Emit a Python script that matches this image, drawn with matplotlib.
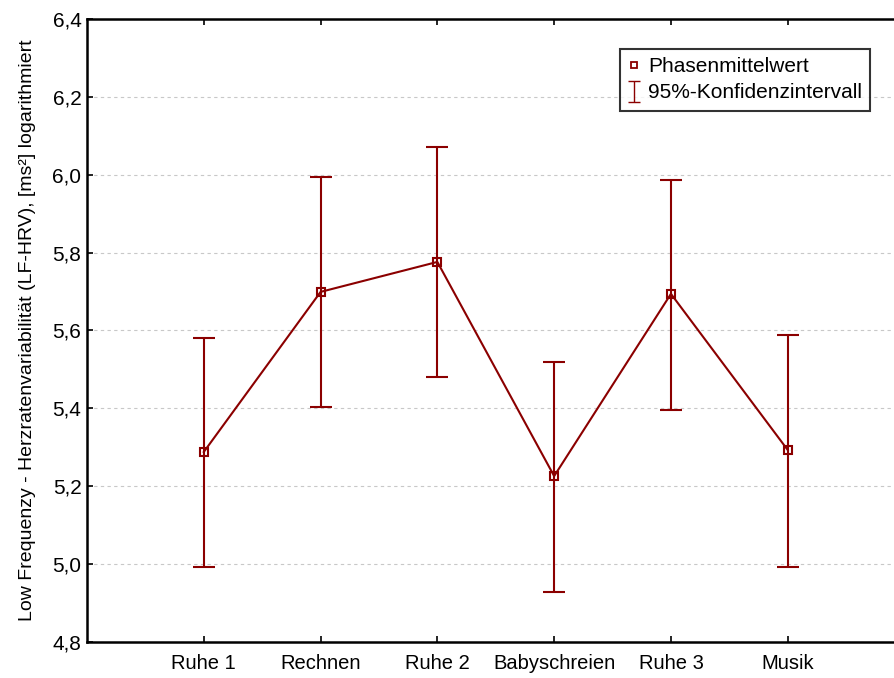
import matplotlib
matplotlib.use("Agg")
import matplotlib.pyplot as plt
from matplotlib.ticker import FixedLocator, FuncFormatter

plt.rcParams['font.family'] = ['Liberation Sans', 'DejaVu Sans']

categories = ["Ruhe 1", "Rechnen", "Ruhe 2", "Babyschreien", "Ruhe 3", "Musik"]
means = [5.288, 5.699, 5.776, 5.226, 5.694, 5.293]
upper = [5.580, 5.994, 6.070, 5.519, 5.987, 5.589]
lower = [4.993, 5.404, 5.481, 4.929, 5.396, 4.993]
yticks = [4.8, 5.0, 5.2, 5.4, 5.6, 5.8, 6.0, 6.2, 6.4]

color = "#8B0000"

fig = plt.figure(figsize=(8.95, 6.78), dpi=100)
ax = fig.add_axes([0.0972, 0.0531, 0.903, 0.919])

x = list(range(1, len(categories) + 1))
yerr = [[m - l for m, l in zip(means, lower)], [u - m for m, u in zip(means, upper)]]

ax.errorbar(x, means, yerr=yerr, fmt='none', ecolor=color, elinewidth=1.5,
            capsize=8, capthick=1.5, zorder=3)
ax.plot(x, means, color=color, lw=1.5, marker='s', markersize=6,
        markerfacecolor='none', markeredgecolor=color, markeredgewidth=1.5, zorder=4)

# legend proxies (drawn outside the visible x range)
h1, = ax.plot([-10], [5.0], ls='none', marker='s', markersize=5, markerfacecolor='none',
              markeredgecolor=color, markeredgewidth=1.3)
h2 = ax.errorbar([-10], [5.0], yerr=[0.1], fmt='none', ecolor=color, elinewidth=1.0,
                 capsize=4, capthick=1.0)
leg = ax.legend([h1, h2], ["Phasenmittelwert", "95%-Konfidenzintervall"],
                loc='upper right', bbox_to_anchor=(0.969, 0.952),
                fontsize=15, frameon=True, fancybox=False, edgecolor='black',
                handlelength=0.6, handletextpad=0.35, borderpad=0.4, labelspacing=0.35,
                borderaxespad=0)
leg.get_frame().set_linewidth(1.5)

ax.set_xlim(0, 6.92)
ax.set_ylim(4.8, 6.4)
ax.set_xticks(x)
ax.set_xticklabels(categories, fontsize=14.5)
ax.yaxis.set_major_locator(FixedLocator(yticks))
ax.yaxis.set_major_formatter(FuncFormatter(lambda v, p: f"{v:.1f}".replace('.', ',')))
ax.tick_params(axis='y', labelsize=15, direction='in', length=4, width=1.2, pad=4)
ax.tick_params(axis='x', direction='in', length=4, width=1.2, pad=9, top=True)
ax.grid(axis='y', color='#c8c8c8', ls=(0, (3, 3)), lw=0.8)
ax.set_axisbelow(True)
for s in ax.spines.values():
    s.set_linewidth(1.8)

ax.set_ylabel("Low Frequenzy - Herzratenvariabilität (LF-HRV), [ms²] logarithmiert",
              fontsize=14, labelpad=12)

fig.savefig("out.png", dpi=100)
